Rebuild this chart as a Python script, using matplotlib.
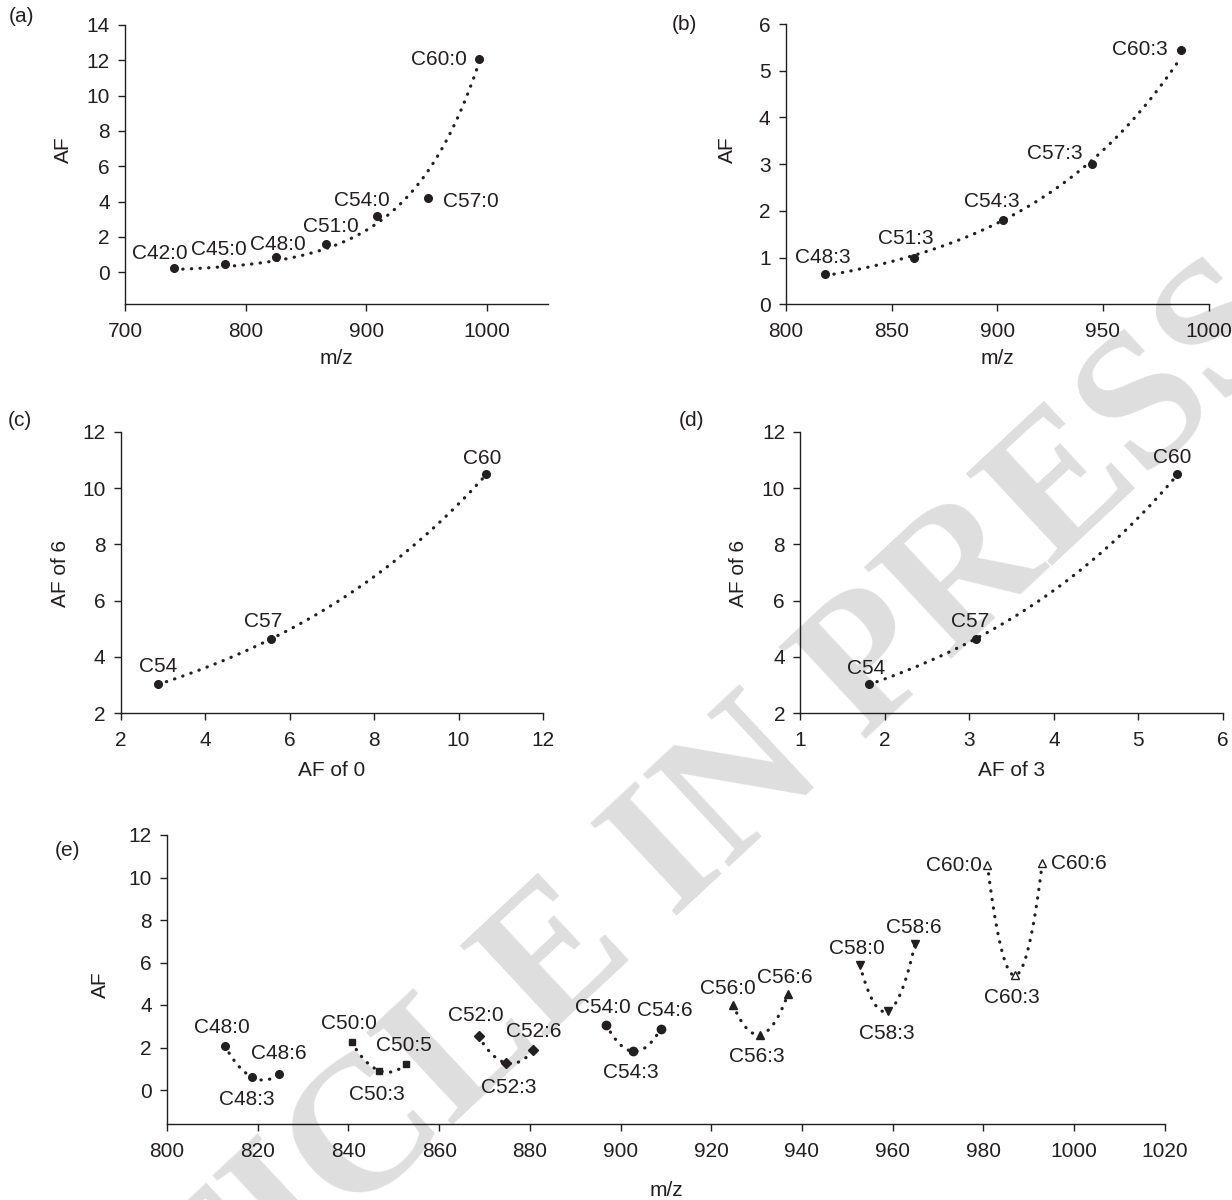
"""Atherogenic-factor (AF) panels a-e, redrawn from the figure."""

import numpy as np
import matplotlib
matplotlib.use("Agg")
import matplotlib.pyplot as plt

plt.rcParams["font.family"] = ["Liberation Sans", "DejaVu Sans"]
INK = "#231f20"
FS = 15

# (a) saturated series, AF vs m/z
a_mz = [740.7, 782.7, 824.8, 866.8, 908.9, 950.9, 993.0]
a_af = [0.23, 0.45, 0.85, 1.6, 3.2, 4.2, 12.1]
a_lbl = ["C42:0", "C45:0", "C48:0", "C51:0", "C54:0", "C57:0", "C60:0"]

# (b) three-double-bond series
b_mz = [818.7, 860.8, 902.8, 944.9, 986.9]
b_af = [0.64, 1.0, 1.8, 3.01, 5.45]
b_lbl = ["C48:3", "C51:3", "C54:3", "C57:3", "C60:3"]

# (c) AF of 6 vs AF of 0, (d) AF of 6 vs AF of 3
cd_lbl = ["C54", "C57", "C60"]
c_af0 = [2.89, 5.56, 10.66]
c_af6 = [3.03, 4.63, 10.49]
d_af3 = [1.81, 3.08, 5.46]
d_af6 = [3.03, 4.63, 10.49]

# (e) groups of three, AF vs m/z
e_groups = ["C48", "C50", "C52", "C54", "C56", "C58", "C60"]
e_mz = [
    [812.7, 818.7, 824.8],
    [840.7, 846.8, 852.8],
    [868.7, 874.8, 880.8],
    [896.8, 902.8, 908.9],
    [924.8, 930.8, 936.9],
    [952.8, 958.9, 964.9],
    [980.9, 986.9, 993.0],
]
e_af = [
    [2.09, 0.61, 0.75],
    [2.25, 0.91, 1.23],
    [2.53, 1.27, 1.87],
    [3.08, 1.82, 2.89],
    [4.0, 2.61, 4.5],
    [5.86, 3.71, 6.85],
    [10.58, 5.39, 10.7],
]
e_lbl = [
    ["C48:0", "C48:3", "C48:6"],
    ["C50:0", "C50:3", "C50:5"],
    ["C52:0", "C52:3", "C52:6"],
    ["C54:0", "C54:3", "C54:6"],
    ["C56:0", "C56:3", "C56:6"],
    ["C58:0", "C58:3", "C58:6"],
    ["C60:0", "C60:3", "C60:6"],
]

# label offsets in pixels (dx, dy up)
a_off = [(-14, 17), (-6, 17), (2, 15), (4, 19), (-15, 17), (43, -1), (-40, 1)]
b_off = [(-3, 19), (-9, 21), (-11, 21), (-37, 12), (-41, 2)]
c_off = [(0, 20), (-8, 20), (-4, 18)]
d_off = [(-3, 18), (-6, 20), (-5, 19)]
e_off = [
    [(-3, 20), (-5, -20), (-1, 23)],
    [(-3, 21), (-2, -22), (-3, 20)],
    [(-3, 23), (2, -22), (0, 21)],
    [(-3, 19), (-2, -19), (4, 20)],
    [(-5, 18), (-3, -20), (-3, 19)],
    [(-3, 19), (-1, -20), (-1, 19)],
    [(-34, 2), (-3, -20), (37, 1)],
]
e_marker = ["o", "s", "D", "o", "^", "v", "^"]
e_msize = [5.5, 5.0, 5.0, 6.0, 5.5, 5.5, 6.0]
e_face = [INK, INK, INK, INK, INK, INK, "white"]

W, H = 1232, 1200
fig = plt.figure(figsize=(W / 100, H / 100), dpi=100)

# faint diagonal watermark behind everything
fig.text(620 / W, 1 - 905 / H, "ARTICLE IN PRESS", fontsize=138, fontweight="bold",
         family="Liberation Serif", color="#dedede", rotation=43, rotation_mode="anchor",
         ha="center", va="center", zorder=-5)


def px_axes(left, top, right, bottom):
    ax = fig.add_axes([left / W, 1 - bottom / H, (right - left) / W, (bottom - top) / H])
    ax.set_facecolor("none")
    for s in ("top", "right"):
        ax.spines[s].set_visible(False)
    for s in ("left", "bottom"):
        ax.spines[s].set_color(INK)
        ax.spines[s].set_linewidth(1.0)
    ax.tick_params(direction="out", length=5, width=1, color=INK, labelcolor=INK,
                   labelsize=FS)
    ax.tick_params(axis="x", pad=8)
    ax.tick_params(axis="y", pad=6)
    return ax


def ftext(x, y, s, **kw):
    fig.text(x / W, 1 - y / H, s, fontsize=FS, color=INK, ha="center", va="center", **kw)


def dotted(ax, xs, ys):
    ax.plot(xs, ys, color=INK, linestyle=(0, (0.1, 2.6)), linewidth=2.3,
            dash_capstyle="round", zorder=2)


def labels(ax, xs, ys, lbls, offs):
    for x, y, t, (dx, dy) in zip(xs, ys, lbls, offs):
        ax.annotate(t, (x, y), xytext=(dx, dy), textcoords="offset pixels",
                    ha="center", va="center_baseline", fontsize=FS, color=INK)


def exp_trend(ax, x, y, weighted=False):
    x = np.asarray(x)
    y = np.asarray(y)
    w = y if weighted else None
    k, c = np.polyfit(x, np.log(y), 1, w=w)
    xs = np.linspace(x.min(), x.max(), 300)
    dotted(ax, xs, np.exp(c + k * xs))


# ---- (a)
ax = px_axes(125, 25, 547.6, 304)
ax.set_xlim(700, 1050)
ax.set_ylim(-1.8, 14)
ax.set_xticks([700, 800, 900, 1000])
ax.set_yticks(range(0, 15, 2))
exp_trend(ax, a_mz, a_af, weighted=True)
ax.plot(a_mz, a_af, "o", color=INK, markersize=5.5, zorder=3)
labels(ax, a_mz, a_af, a_lbl, a_off)
ftext(22, 17, "(a)")
ftext(63, 150, "AF", rotation=90)
ftext(336, 358, "m/z")

# ---- (b)
ax = px_axes(785.9, 24, 1208.6, 304.3)
ax.set_xlim(800, 1000)
ax.set_ylim(0, 6)
ax.set_xticks(range(800, 1001, 50))
ax.set_yticks(range(0, 7))
exp_trend(ax, b_mz, b_af)
ax.plot(b_mz, b_af, "o", color=INK, markersize=5.5, zorder=3)
labels(ax, b_mz, b_af, b_lbl, b_off)
ftext(684, 25, "(b)")
ftext(727, 150, "AF", rotation=90)
ftext(997, 358, "m/z")

# ---- (c)
ax = px_axes(120.6, 431.7, 543, 713.3)
ax.set_xlim(2, 12)
ax.set_ylim(2, 12)
ax.set_xticks(range(2, 13, 2))
ax.set_yticks(range(2, 13, 2))
exp_trend(ax, c_af0, c_af6)
ax.plot(c_af0, c_af6, "o", color=INK, markersize=5.5, zorder=3)
labels(ax, c_af0, c_af6, cd_lbl, c_off)
ftext(20, 420, "(c)")
ftext(61, 573, "AF of 6", rotation=90)
ftext(332, 770, "AF of 0")

# ---- (d)
ax = px_axes(800.3, 431.7, 1223, 713.3)
ax.set_xlim(1, 6)
ax.set_ylim(2, 12)
ax.set_xticks(range(1, 7))
ax.set_yticks(range(2, 13, 2))
exp_trend(ax, d_af3, d_af6)
ax.plot(d_af3, d_af6, "o", color=INK, markersize=5.5, zorder=3)
labels(ax, d_af3, d_af6, cd_lbl, d_off)
ftext(692, 420, "(d)")
ftext(739, 573, "AF of 6", rotation=90)
ftext(1012, 770, "AF of 3")

# ---- (e)
ax = px_axes(167, 835, 1164.8, 1124)
ax.set_xlim(800, 1020)
ax.set_ylim(-1.6, 12)
ax.set_xticks(range(800, 1021, 20))
ax.set_yticks(range(0, 13, 2))
for mz, af, lb, off, mk, ms, fc in zip(e_mz, e_af, e_lbl, e_off, e_marker, e_msize, e_face):
    p = np.polyfit(mz, af, 2)
    xs = np.linspace(min(mz), max(mz), 200)
    dotted(ax, xs, np.polyval(p, xs))
    ax.plot(mz, af, linestyle="none", marker=mk, markersize=ms, color=INK,
            markerfacecolor=fc, markeredgewidth=1.0, zorder=3)
    labels(ax, mz, af, lb, off)
ftext(68, 850, "(e)")
ftext(100, 985, "AF", rotation=90)
ftext(666, 1190, "m/z")

fig.savefig("out.png", dpi=100)
plt.close(fig)
